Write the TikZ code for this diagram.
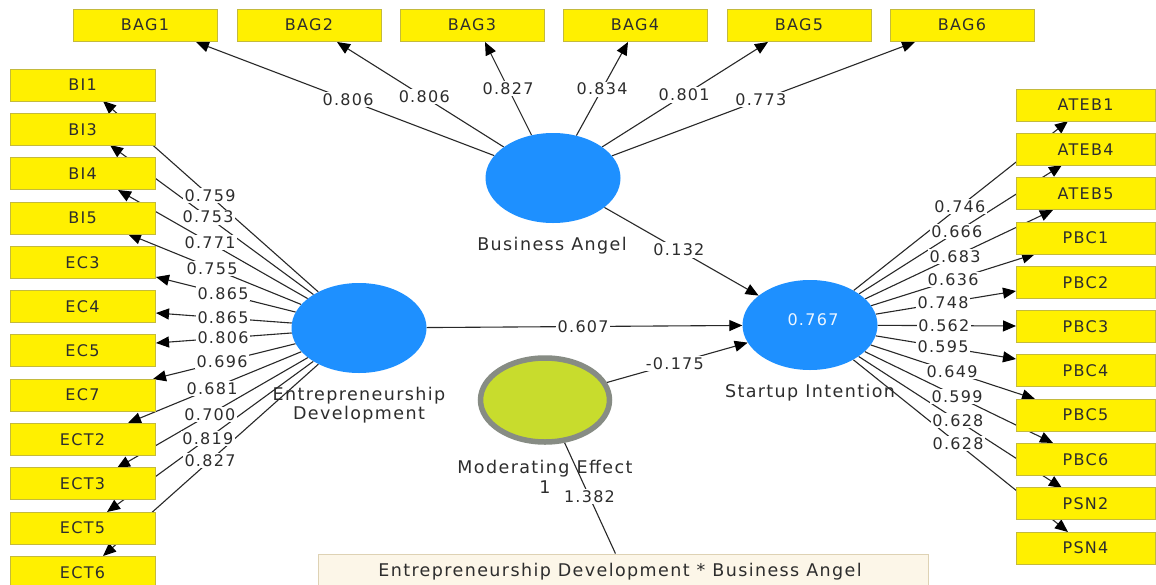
\documentclass[tikz,border=0pt]{standalone}
\usepackage{fontspec}
\setmainfont{DejaVu Sans}[LetterSpace=8]
\usetikzlibrary{arrows.meta,calc,backgrounds,shapes.geometric}
\pgfdeclarelayer{canvas}
\pgfsetlayers{canvas,background,main}
\definecolor{indfill}{RGB}{255,240,0}
\definecolor{inddraw}{RGB}{196,186,60}
\definecolor{latblue}{RGB}{30,144,255}
\definecolor{modfill}{RGB}{200,220,45}
\definecolor{modring}{RGB}{135,140,132}
\definecolor{ink}{RGB}{45,45,45}
\definecolor{pathline}{RGB}{40,40,40}
\definecolor{termfill}{RGB}{252,246,232}
\definecolor{termdraw}{RGB}{222,210,180}
\begin{document}
\begin{tikzpicture}[x=1pt,y=-1pt,
  font=\fontsize{16}{19}\selectfont,
  ind/.style={rectangle, fill=indfill, draw=inddraw, line width=0.8pt,
    minimum width=144pt, minimum height=32pt, inner sep=0pt, text=ink},
  indr/.style={ind, minimum width=139pt},
  lat/.style={ellipse, fill=latblue, minimum width=135pt, minimum height=90pt, inner sep=0pt},
  modlat/.style={ellipse, fill=modfill, draw=modring, line width=5.5pt,
    minimum width=129pt, minimum height=84pt, inner sep=0pt},
  term/.style={rectangle, fill=termfill, draw=termdraw, line width=0.8pt,
    minimum width=610pt, minimum height=32pt, inner sep=0pt, text=ink},
  caption/.style={text=ink, align=center, inner sep=0pt,
    font=\fontsize{17.5}{19.5}\selectfont},
  val/.style={fill=white, inner sep=1.5pt, text=ink},
  link/.style={draw=pathline, line width=1.1pt,
    -{Triangle[length=13pt,width=11pt,color=black]}},
  plain/.style={draw=pathline, line width=1.1pt}]
\useasboundingbox (0,0) rectangle (1156,584);
\begin{pgfonlayer}{canvas}
  \fill[white] (0,0) rectangle (1156,584);
\end{pgfonlayer}

% latent variables
\node[lat] (ba) at (553,178) {};
\node[lat] (ed) at (359,328) {};
\node[lat] (si) at (810,325) {};
\node[modlat] (mod) at (545,400) {};
\node[text=white!92!latblue] at (813,320) {0.767};

% interaction indicator
\node[term] (inter) at (623,570) {};
\node[text=ink, font=\fontsize{17.5}{20}\selectfont] at (620,572)
  {Entrepreneurship Development * Business Angel};

% Business Angel indicators
\foreach \nm/\lbl/\x/\tx in {bag1/BAG1/145/196, bag2/BAG2/309/337, bag3/BAG3/472/485,
    bag4/BAG4/635/628, bag5/BAG5/799/768, bag6/BAG6/962/915} {
  \node[ind] (\nm) at (\x,25) {\lbl};
  \coordinate (t-\nm) at (\tx,42);
}

% Entrepreneurship Development indicators
\foreach \nm/\lbl/\i/\tx/\ty in {bi1/BI1/0/103/101, bi3/BI3/1/110/145, bi4/BI4/2/118/190,
    bi5/BI5/3/128/234, ec3/EC3/4/156/277, ec4/EC4/5/156/313, ec5/EC5/6/156/343,
    ec7/EC7/7/153/379, ect2/ECT2/8/128/423, ect3/ECT3/9/117/468, ect5/ECT5/10/107/512,
    ect6/ECT6/11/103/556} {
  \node[ind, minimum width=145pt] (\nm) at (82.5,85+44.3*\i) {\lbl};
  \coordinate (t-\nm) at (\tx,\ty);
}

% Startup Intention indicators
\foreach \nm/\lbl/\i/\tx/\ty in {ateb1/ATEB1/0/1068/121, ateb4/ATEB4/1/1062/165,
    ateb5/ATEB5/2/1053/210, pbc1/PBC1/3/1035/254, pbc2/PBC2/4/1016/291,
    pbc3/PBC3/5/1016/326, pbc4/PBC4/6/1016/359, pbc5/PBC5/7/1035/399,
    pbc6/PBC6/8/1053/443, psn2/PSN2/9/1062/488, psn4/PSN4/10/1068/532} {
  \node[indr] (\nm) at (1085.5,105+44.3*\i) {\lbl};
  \coordinate (t-\nm) at (\tx,\ty);
}

\begin{pgfonlayer}{background}
  % captions of the latent variables, crossed by the paths
  \node[caption] at (552,246) {Business Angel};
  \node[caption] at (359,405) {Entrepreneurship\\Development};
  \node[caption] at (810,393) {Startup Intention};
  \node[caption] at (545,477) {Moderating Effect\\1};

  % outer loadings
  \foreach \nm in {bag1,bag2,bag3,bag4,bag5,bag6}
    \draw[link] (ba) -- (t-\nm);
  \foreach \nm in {bi1,bi3,bi4,bi5,ec3,ec4,ec5,ec7,ect2,ect3,ect5,ect6}
    \draw[link] (ed) -- (t-\nm);
  \foreach \nm in {ateb1,ateb4,ateb5,pbc1,pbc2,pbc3,pbc4,pbc5,pbc6,psn2,psn4}
    \draw[link] (si) -- (t-\nm);

  % structural paths
  \draw[link] (ba) -- (si);
  \draw[link] (ed) -- (si);
  \draw[link] (mod) -- (si);
  \draw[plain] (mod) -- (inter);
\end{pgfonlayer}

% loading values
\foreach \nm/\v/\f in {bag1/0.806/0.574, bag2/0.806/0.596, bag3/0.827/0.66,
    bag4/0.834/0.654, bag5/0.801/0.61, bag6/0.773/0.574}
  \node[val] at ($(ba)!\f!(t-\nm)$) {\v};
\foreach \nm/\v/\f in {bi1/0.759/0.582, bi3/0.753/0.606, bi4/0.771/0.618,
    bi5/0.755/0.636, ec3/0.865/0.67, ec4/0.865/0.67, ec5/0.806/0.67,
    ec7/0.696/0.665, ect2/0.681/0.636, ect3/0.700/0.616, ect5/0.819/0.6,
    ect6/0.827/0.582}
  \node[val] at ($(ed)!\f!(t-\nm)$) {\v};
\foreach \nm/\v/\f in {ateb1/0.746/0.581, ateb4/0.666/0.583, ateb5/0.683/0.597,
    pbc1/0.636/0.636, pbc2/0.748/0.646, pbc3/0.562/0.65, pbc4/0.595/0.646,
    pbc5/0.649/0.631, pbc6/0.599/0.605, psn2/0.628/0.587, psn4/0.628/0.574}
  \node[val] at ($(si)!\f!(t-\nm)$) {\v};

% path coefficients
\node[val] at ($(ba)!0.49!(si)$) {0.132};
\node[val] at ($(ed)!0.497!(si)$) {0.607};
\node[val] at ($(mod)!0.49!(si)$) {-0.175};
\node[val] at ($(mod)!0.57!(inter)$) {1.382};
\end{tikzpicture}
\end{document}
